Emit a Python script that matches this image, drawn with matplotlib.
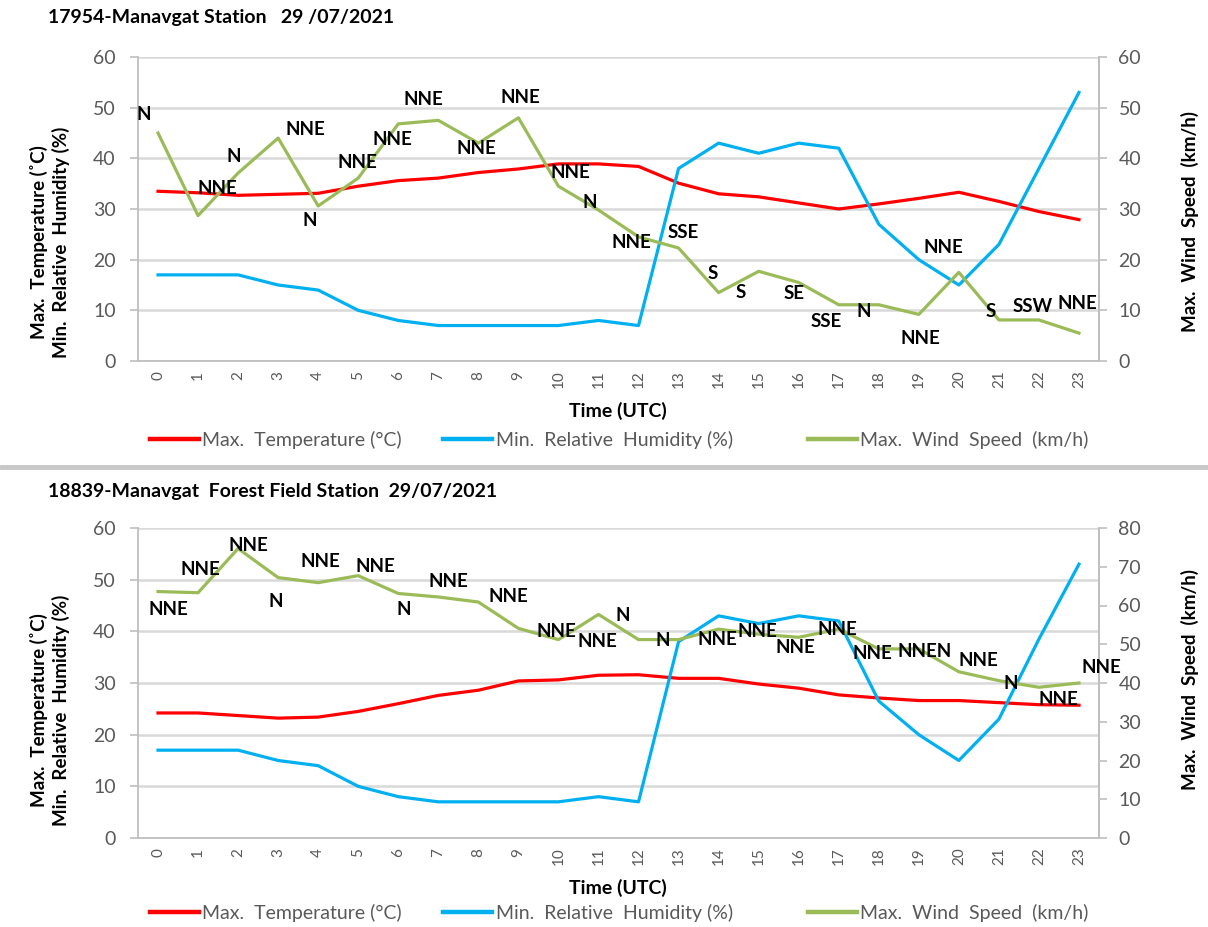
import matplotlib
matplotlib.use("Agg")
import matplotlib.pyplot as plt
from matplotlib.lines import Line2D
import numpy as np

plt.rcParams['font.family'] = ['Lato', 'DejaVu Sans']

hours = list(range(24))

# 17954 - Manavgat station
top_temp = [33.5, 33.2, 32.7, 32.9, 33.1, 34.5, 35.6, 36.1, 37.2, 37.9, 38.9, 38.9,
            38.4, 35.1, 33.0, 32.4, 31.2, 30.0, 31.0, 32.1, 33.3, 31.5, 29.5, 27.9]
top_hum = [17, 17, 17, 15, 14, 10, 8, 7, 7, 7, 7, 8,
           7, 38, 43, 41, 43, 42, 27, 20, 15, 23, 38, 53]
top_wind = [45.0, 28.7, 37.1, 44.0, 30.6, 36.1, 46.8, 47.5, 43.0, 48.0, 34.5, 29.8,
            24.5, 22.3, 13.5, 17.7, 15.5, 11.1, 11.1, 9.2, 17.5, 8.1, 8.1, 5.5]
top_dir = ["N", "NNE", "N", "NNE", "N", "NNE", "NNE", "NNE", "NNE", "NNE", "NNE", "N",
           "NNE", "SSE", "S", "S", "SE", "SSE", "N", "NNE", "NNE", "S", "SSW", "NNE"]

# 18839 - Manavgat forest field station
bot_temp = [24.2, 24.2, 23.7, 23.2, 23.4, 24.5, 26.0, 27.6, 28.6, 30.4, 30.6, 31.5,
            31.6, 30.9, 30.9, 29.8, 29.0, 27.7, 27.1, 26.6, 26.6, 26.2, 25.8, 25.7]
bot_hum = [17, 17, 17, 15, 14, 10, 8, 7, 7, 7, 7, 8,
           7, 38, 43, 41.5, 43, 42, 26.5, 20, 15, 23, 38.5, 53]
bot_wind = [63.6, 63.3, 74.7, 67.2, 65.9, 67.7, 63.1, 62.2, 60.9, 54.1, 51.2, 57.7,
            51.2, 51.2, 53.9, 52.6, 51.8, 53.9, 48.8, 48.8, 42.9, 40.6, 38.9, 40.0]
bot_dir = ["NNE", "NNE", "NNE", "N", "NNE", "NNE", "N", "NNE", "NNE", "NNE", "NNE", "N",
           "N", "NNE", "NNE", "NNE", "NNE", "NNE", "NNEN", "NNE", "N", "NNE", "NNE"]

# where the direction labels sit (hour, wind-axis value)
top_lbl_x = [-0.36, 1.49, 1.9, 3.68, 3.78, 4.97, 5.86, 6.63, 7.94, 9.06, 10.29, 10.79,
             11.83, 13.11, 13.86, 14.56, 15.89, 16.69, 17.63, 19.05, 19.61, 20.79, 21.84, 22.95]
top_lbl_y = [48.6, 34.1, 40.4, 45.6, 27.7, 39.2, 43.8, 51.7, 41.9, 52.1, 37.3, 31.2,
             23.4, 25.4, 17.3, 13.5, 13.4, 7.8, 9.7, 4.5, 22.5, 9.7, 10.7, 11.3]
bot_lbl_x = [0.27, 1.07, 2.26, 2.93, 4.05, 5.42, 6.13, 7.25, 8.75, 9.96, 10.97, 11.6,
             12.6, 13.98, 14.97, 15.92, 16.97, 17.83, 19.15, 20.5, 21.3, 22.49, 23.55]
bot_lbl_y = [58.9, 69.3, 75.5, 61.0, 71.3, 70.0, 59.0, 66.3, 62.2, 53.2, 50.8, 57.4,
             51.0, 51.2, 53.4, 49.1, 53.8, 47.6, 48.2, 45.8, 39.9, 35.8, 44.0]

RED = '#ff0000'
BLUE = '#00b0f0'
GREEN = '#9bbb59'
GRID = '#d9d9d9'
SPINE = '#bfbfbf'
TXT = '#595959'

W, H = 1208, 927
fig = plt.figure(figsize=(W / 100, H / 100), dpi=100)


def px(x, y):
    return x / W, 1 - y / H


def panel(top_px, bot_px, title, title_y, temp, hum, wind, wmax, dirs, lx, ly,
          xlab_y, leg_y, ylab_y, rlab_y):
    l, b = px(138, bot_px)
    r, t = px(1099, top_px)
    ax = fig.add_axes([l, b, r - l, t - b])
    ax.set_xlim(-0.5, 23.5)
    ax.set_ylim(0, 60)
    ax.set_yticks(range(0, 61, 10))
    ax.yaxis.grid(True, color=GRID, lw=1.8)
    ax.set_axisbelow(True)
    ax.spines['top'].set_visible(False)
    for s in ['left', 'bottom', 'right']:
        ax.spines[s].set_color(SPINE)
        ax.spines[s].set_linewidth(1.3)
    ax.set_xticks(hours)
    ax.set_xticklabels([str(h) for h in hours], rotation=90)
    ax.tick_params(axis='x', length=0, pad=7, labelsize=11, labelcolor=TXT)
    ax.tick_params(axis='y', length=6, width=1.2, color=SPINE, pad=10,
                   labelsize=14, labelcolor=TXT)

    ax.plot(hours, temp, color=RED, lw=2.3, zorder=3)
    ax.plot(hours, hum, color=BLUE, lw=2.3, zorder=3)

    ax2 = ax.twinx()
    ax2.set_ylim(0, wmax)
    ax2.set_yticks(range(0, wmax + 1, 10))
    for s in ['top', 'left', 'bottom']:
        ax2.spines[s].set_visible(False)
    ax2.spines['right'].set_color(SPINE)
    ax2.spines['right'].set_linewidth(1.3)
    ax2.tick_params(axis='y', length=6, width=1.2, color=SPINE, pad=8,
                    labelsize=14, labelcolor=TXT)
    ax2.plot(hours, wind, color=GREEN, lw=2.3, zorder=3)
    for d, x, y in zip(dirs, lx, ly):
        ax2.text(x, y, d, ha='center', va='center', fontsize=13.5,
                 fontweight='bold', color='black', zorder=5, clip_on=False)

    fig.text(*px(48, title_y), title, fontsize=14, fontweight='bold',
             ha='left', va='center')
    fig.text(*px(618, xlab_y), 'Time (UTC)', fontsize=14, fontweight='bold',
             ha='center', va='center')
    fig.text(*px(50, ylab_y), 'Max.  Temperature (˚C)\nMin.  Relative  Humidity (%)',
             rotation=90, fontsize=13.5, fontweight='bold', ha='center', va='center',
             linespacing=1.2)
    fig.text(*px(1190, rlab_y), 'Max.  Wind  Speed  (km/h)', rotation=90,
             fontsize=13.5, fontweight='bold', ha='center', va='center')

    handles = [Line2D([], [], color=RED, lw=3.2),
               Line2D([], [], color=BLUE, lw=3.2),
               Line2D([], [], color=GREEN, lw=3.2)]
    names = ['Max.  Temperature (°C)', 'Min.  Relative  Humidity (%)',
             'Max.  Wind  Speed  (km/h)']
    starts = [150, 443, 808]
    for h, n, x0 in zip(handles, names, starts):
        leg = fig.legend([h], [n], loc='center left', bbox_to_anchor=px(x0, leg_y),
                         frameon=False, fontsize=14, handlelength=2.5,
                         handletextpad=0.2, borderpad=0, borderaxespad=0,
                         labelcolor=TXT)
    return ax, ax2


panel(57, 361, '17954-Manavgat Station   29 /07/2021', 18, top_temp, top_hum, top_wind,
      60, top_dir, top_lbl_x, top_lbl_y, 411, 440, 242, 222)
panel(528, 838, '18839-Manavgat  Forest Field Station  29/07/2021', 492, bot_temp, bot_hum,
      bot_wind, 80, bot_dir, bot_lbl_x, bot_lbl_y, 888, 913, 710, 680)

# grey separator between the two panels
fig.add_artist(Line2D([0.002, 1.0], [1 - 467 / H, 1 - 467 / H], color='#c8c8c8', lw=3.5))

fig.savefig('out.png', dpi=100, facecolor='white')
